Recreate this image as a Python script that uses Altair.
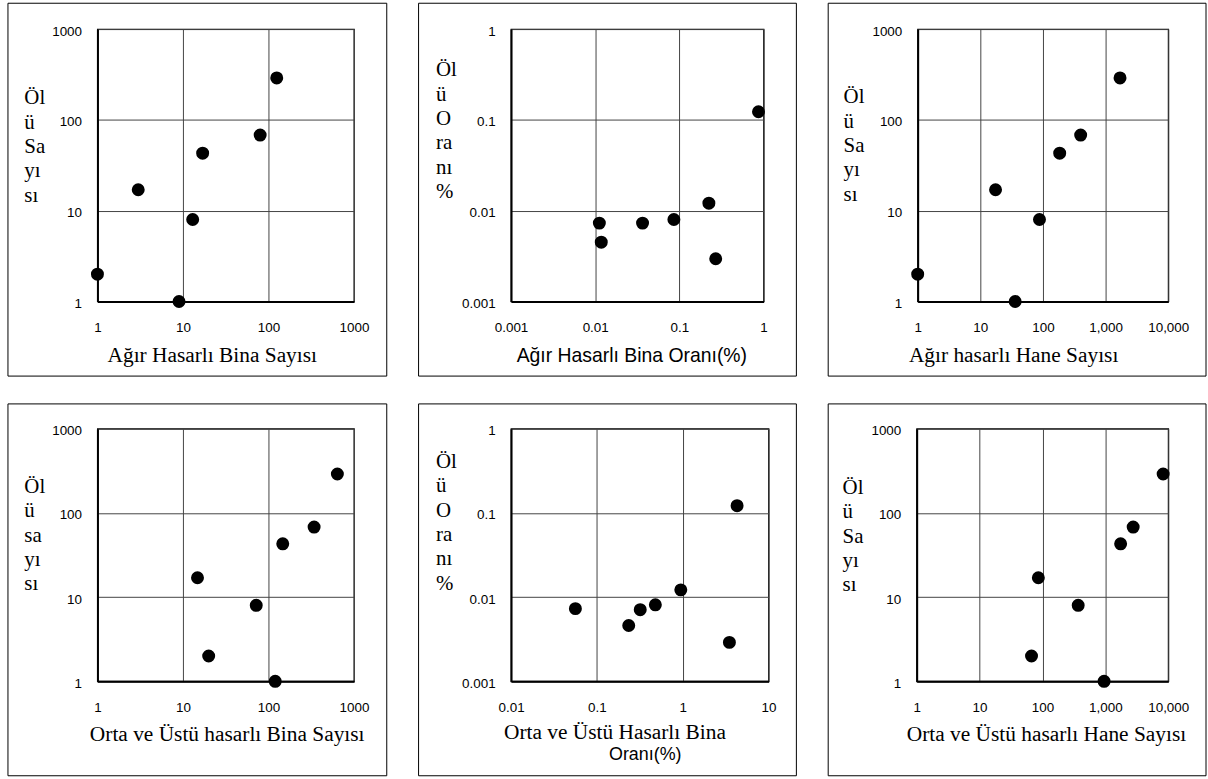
import altair as alt
import pandas as pd

# ---------------- data ----------------
deaths = [2, 17, 1, 8, 43, 68, 290]

heavy_bldg = [1, 3, 9, 13, 17, 80, 125]
heavy_bldg_rate = [0.0112, 0.0118, 0.0365, 0.086, 0.224, 0.27, 0.87]
death_rate_a = [0.0073, 0.0045, 0.0073, 0.0080, 0.0121, 0.00296, 0.123]
heavy_house = [1, 17.5, 36, 88, 185, 400, 1700]

mod_bldg = [20, 14.8, 120, 72, 147, 342, 640]
mod_bldg_rate = [0.0562, 0.235, 0.32, 0.48, 0.95, 3.5, 4.3]
death_rate_b = [0.0073, 0.0046, 0.0071, 0.0081, 0.0122, 0.0029, 0.122]
mod_house = [67, 86, 955, 370, 1750, 2770, 8300]

ticks_count = [1, 10, 100, 1000]
ticks_house = [1, 10, 100, 1000, 10000]
ticks_rate_a = [0.001, 0.01, 0.1, 1]
ticks_rate_b = [0.01, 0.1, 1, 10]

yt_count = ["Öl", "ü", "Sa", "yı", "sı"]
yt_count_lc = ["Öl", "ü", "sa", "yı", "sı"]
yt_rate = ["Öl", "ü", "O", "ra", "nı", "%"]

SERIF = "Liberation Serif"
SANS = "Liberation Sans"


def panel(xs, ys, xticks, yticks, xfmt, yfmt, w, h,
          xtitle, xfont, xsize, xtx, ytitle, yty, ytx, frame,
          second_line=None, xty=60):
    df = pd.DataFrame({"x": xs, "y": ys})
    xaxis = alt.Axis(values=xticks, format=xfmt, title=xtitle,
                     titleFont=xfont, titleFontSize=xsize, titleFontWeight="normal",
                     titleColor="black", titleAlign="center", titleBaseline="alphabetic",
                     titleX=xtx, titleY=xty, titleAnchor="start",
                     labelFont=SANS, labelFontSize=13.5, labelColor="black",
                     labelPadding=19, labelFlush=False, labelOverlap=False,
                     labelBaseline="top",
                     ticks=False, tickSize=0, grid=True, gridColor="#444444",
                     gridWidth=1, domainColor="black", domainWidth=2)
    yaxis = alt.Axis(values=yticks, format=yfmt, title=ytitle,
                     titleFont=SERIF, titleFontSize=21, titleFontWeight="normal",
                     titleColor="black", titleAngle=0, titleAlign="left",
                     titleBaseline="alphabetic", titleX=ytx, titleY=yty,
                     titleLineHeight=24.5, titleAnchor="start",
                     labelFont=SANS, labelFontSize=13.5, labelColor="black",
                     labelPadding=16, labelOffset=2, labelFlush=False,
                     labelOverlap=False,
                     ticks=False, tickSize=0, grid=True, gridColor="#444444",
                     gridWidth=1, domainColor="black", domainWidth=2)
    pts = alt.Chart(df).mark_circle(size=170, color="black", opacity=1).encode(
        x=alt.X("x:Q", scale=alt.Scale(type="log", domain=[xticks[0], xticks[-1]], nice=False),
                axis=xaxis),
        y=alt.Y("y:Q", scale=alt.Scale(type="log", domain=[yticks[0], yticks[-1]], nice=False),
                axis=yaxis),
    )
    fx1, fx2, fy1, fy2 = frame
    box = alt.Chart(pd.DataFrame({"k": [0]})).mark_rect(
        fillOpacity=0, stroke="black", strokeWidth=1
    ).encode(x=alt.value(fx1), x2=alt.value(fx2), y=alt.value(fy1), y2=alt.value(fy2))
    layers = [box, pts]
    if second_line is not None:
        txt, tx, ty = second_line
        layers.append(
            alt.Chart(pd.DataFrame({"t": [txt]})).mark_text(
                font=SANS, fontSize=18, color="black", align="center",
                baseline="alphabetic"
            ).encode(text="t:N", x=alt.value(tx), y=alt.value(ty))
        )
    return alt.layer(*layers).properties(width=w, height=h)


p1 = panel(heavy_bldg, deaths, ticks_count, ticks_count, "~g", "~g", 258, 274,
           "Ağır Hasarlı Bina Sayısı", SERIF, 21.5, 115, yt_count, 75, -74,
           (-90, 291, -26, 349))
p2 = panel(heavy_bldg_rate, death_rate_a, ticks_rate_a, ticks_rate_a, "~g", "~g", 254, 274,
           "Ağır Hasarlı Bina Oranı(%)", SANS, 19.5, 121, yt_rate, 47, -76,
           (-93, 287, -26, 349))
p3 = panel(heavy_house, deaths, ticks_house, ticks_count, ",~g", "~g", 252, 274,
           "Ağır hasarlı Hane Sayısı", SERIF, 21.5, 96, yt_count, 74, -75,
           (-90, 290, -26, 349))
p4 = panel(mod_bldg, deaths, ticks_count, ticks_count, "~g", "~g", 258, 254,
           "Orta ve Üstü hasarlı Bina Sayısı", SERIF, 21.5, 130, yt_count_lc, 64, -74,
           (-90, 291, -25, 349))
p5 = panel(mod_bldg_rate, death_rate_b, ticks_rate_b, ticks_rate_a, "~g", "~g", 259, 254,
           "Orta ve Üstü Hasarlı Bina", SERIF, 21.5, 104, yt_rate, 39, -76,
           (-93, 287, -25, 349), second_line=("Oranı(%)", 135, 254 + 79), xty=58)
p6 = panel(mod_house, deaths, ticks_house, ticks_count, ",~g", "~g", 253, 254,
           "Orta ve Üstü hasarlı Hane Sayısı", SERIF, 21.5, 130, yt_count, 65, -75,
           (-89, 291, -25, 349))

top = alt.hconcat(p1, p2, p3, spacing=28)
bottom = alt.hconcat(p4, p5, p6, spacing=28)
chart = alt.vconcat(top, bottom, spacing=24).properties(
    padding={"left": 6, "top": -1, "right": 0, "bottom": 0},
    background="white",
).configure_view(stroke="black", strokeWidth=1.3)

chart.save("out.html", embed_options={"renderer": "svg", "actions": False})
